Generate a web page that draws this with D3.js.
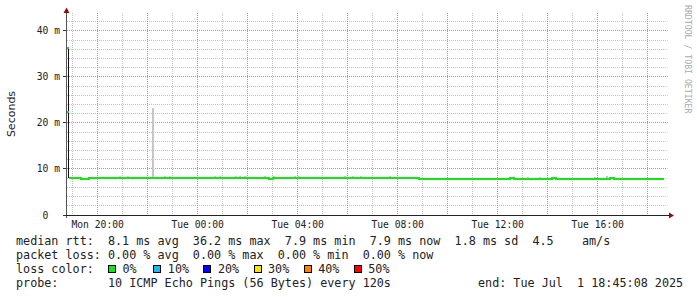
<!DOCTYPE html>
<html>
<head>
<meta charset="utf-8">
<script src="https://cdn.jsdelivr.net/npm/d3@7"></script>
<style>
  body { margin: 0; background: #fff; }
  text { white-space: pre; }
</style>
</head>
<body>
<svg id="chart" width="697" height="297"></svg>
<script>
// ---- data ----
const graphStart = "2025-06-30T18:45:08"
const graphEnd = "2025-07-01T18:45:08"
const seriesStart = "2025-06-30T18:50:00"   // median rtt, one value every 10 min
const stepMinutes = 10

// median rtt in ms, one row per hour (first row is the 18:50 sample)
const medianRtt = [
  8.0,
  8.0, 8.0, 7.9, 7.9, 8.0, 8.0,   // 19
  8.0, 8.0, 8.0, 8.0, 8.0, 8.1,   // 20
  8.0, 8.0, 8.0, 8.0, 8.0, 8.0,   // 21
  8.0, 8.0, 8.0, 8.0, 8.1, 8.0,   // 22
  8.0, 8.0, 8.0, 8.0, 8.0, 8.0,   // 23
  8.0, 8.0, 8.0, 8.0, 8.1, 8.0,   // 00
  8.0, 8.0, 8.0, 8.0, 8.0, 8.0,   // 01
  8.0, 8.0, 8.0, 8.0, 8.0, 7.9,   // 02
  8.0, 8.0, 8.0, 8.0, 8.0, 8.0,   // 03
  8.0, 8.0, 8.0, 8.0, 8.0, 8.0,   // 04
  8.0, 8.0, 8.0, 8.0, 8.0, 8.0,   // 05
  8.0, 8.1, 8.0, 8.1, 8.0, 8.0,   // 06
  8.0, 8.0, 8.0, 8.0, 8.0, 8.0,   // 07
  8.0, 8.0, 8.0, 8.1, 8.0, 7.9,   // 08
  7.9, 7.9, 7.9, 7.9, 7.9, 7.9,   // 09
  7.9, 7.9, 7.9, 7.9, 7.9, 7.9,   // 10
  7.9, 7.9, 7.9, 7.9, 7.9, 7.9,   // 11
  7.9, 7.9, 7.9, 8.0, 7.9, 7.9,   // 12
  7.9, 7.9, 7.9, 7.9, 7.9, 7.9,   // 13
  7.9, 8.0, 7.9, 7.9, 7.9, 7.9,   // 14
  7.9, 7.9, 7.9, 7.9, 7.9, 7.9,   // 15
  7.9, 7.9, 7.9, 8.0, 7.9, 7.9,   // 16
  7.9, 7.9, 7.9, 7.9, 7.9, 7.9,   // 17
  7.9, 7.9, 7.9, 7.9, 7.9         // 18
]

// smoke (slowest ping) where it shows above the median line
const smokeTimes = [
  "2025-06-30T20:50", "2025-06-30T21:10", "2025-06-30T22:10", "2025-06-30T22:40",
  "2025-06-30T22:50", "2025-07-01T00:40", "2025-07-01T00:50", "2025-07-01T01:30",
  "2025-07-01T01:40", "2025-07-01T01:50", "2025-07-01T02:40", "2025-07-01T03:00",
  "2025-07-01T03:50", "2025-07-01T04:00", "2025-07-01T05:50", "2025-07-01T06:10",
  "2025-07-01T06:30", "2025-07-01T07:40", "2025-07-01T13:10", "2025-07-01T13:40",
  "2025-07-01T15:50", "2025-07-01T16:20"
]
const smokeMax = [
  8.5, 8.4, 23.3, 8.5,
  8.4, 8.5, 8.4, 8.5,
  8.5, 8.4, 8.5, 8.5,
  8.4, 8.4, 8.5, 8.4,
  8.4, 8.4, 8.3, 8.3,
  8.3, 8.4
]

// very first column: spread of pings right at graph start
const firstColumnTime = "2025-06-30T18:46"
const firstColumnPings = [36.2, 22.4]
const firstColumnLow = 8.0

const yTicks = [0, 10, 20, 30, 40]
const yTickLabels = ["0  ", "10 m", "20 m", "30 m", "40 m"]

const lossLabels = ["0%", "10%", "20%", "30%", "40%", "50%"]
const lossColors = ["#14e614", "#1cb8f0", "#0000ff", "#ffe400", "#ff7f00", "#ff0000"]

const legendRows = [
  "median rtt:  8.1 ms avg  36.2 ms max  7.9 ms min  7.9 ms now  1.8 ms sd  4.5    am/s",
  "packet loss: 0.00 % avg  0.00 % max  0.00 % min  0.00 % now",
  "loss color:",
  "probe:       10 ICMP Echo Pings (56 Bytes) every 120s"
]
const endLabel = "end: Tue Jul  1 18:45:08 2025"

// small helper so attributes can be set from an object
d3.selection.prototype.attrs = function(o) {
  for (let k in o) this.attr(k, o[k])
  return this
}

// ---- layout ----
const svg = d3.select("#chart")
const plotLeft = 66.5, plotRight = 666.5, plotTop = 13, plotBottom = 215
const mono = "'DejaVu Sans Mono', monospace"
const parse = d3.utcParse("%Y-%m-%dT%H:%M:%S")
const parseShort = d3.utcParse("%Y-%m-%dT%H:%M")

let x = d3.scaleUtc()
  .domain([parse(graphStart), parse(graphEnd)])
  .range([plotLeft, plotRight])
let y = d3.scaleLinear().domain([0, 43.9]).range([plotBottom, plotTop])

const t0 = parse(seriesStart)
let series = medianRtt.map((v, i) => ({ t: d3.utcMinute.offset(t0, i * stepMinutes), v: v }))
let crisp = v => Math.floor(v) + 0.5

// grid, minor first then major (1 on / 1 off dots like rrdtool)
let g = svg.append("g")
let minorY = d3.range(0, 43, 2).filter(d => d % 10 != 0)
let hours = x.ticks(d3.utcHour.every(1))
function hgrid(vals, col) {
  g.append("g").selectAll("line").data(vals).join("line")
    .attrs({ x1: Math.floor(plotLeft) + 1, x2: plotRight + 1, y1: d => crisp(y(d)), y2: d => crisp(y(d)),
      stroke: col, "stroke-dasharray": "1 1" })
}
function vgrid(vals, col) {
  g.append("g").selectAll("line").data(vals).join("line")
    .attrs({ x1: d => crisp(x(d)), x2: d => crisp(x(d)), y1: plotTop, y2: plotBottom,
      stroke: col, "stroke-dasharray": "1 1" })
}
hgrid(minorY, "#c4c4c4")
vgrid(hours.filter(d => d.getUTCHours() % 2 != 0), "#c4c4c4")
hgrid(yTicks.slice(1), "#de8484")
vgrid(hours.filter(d => d.getUTCHours() % 2 == 0), "#de8484")

// smoke
let medianAt = t => series[Math.max(0, d3.bisector(d => d.t).right(series, t) - 1)].v
svg.append("g").attr("shape-rendering", "crispEdges")
  .selectAll("rect").data(smokeTimes.map((s, i) => ({ t: parseShort(s), max: smokeMax[i] })))
  .join("rect")
  .attrs({
    x: d => x(d.t),
    width: d => Math.max(2, x(d3.utcMinute.offset(d.t, 5)) - x(d.t)),
    y: d => y(d.max),
    height: d => y(medianAt(d.t)) - y(d.max),
    fill: "#c6c6c6"
  })

// first column spike
let fx = Math.round(x(parseShort(firstColumnTime))) + 1
svg.append("rect")
  .attrs({ x: fx, width: 1, y: y(firstColumnPings[0]),
    height: y(firstColumnLow) - y(firstColumnPings[0]), fill: "#111", "shape-rendering": "crispEdges" })
svg.selectAll(".fp").data(firstColumnPings).join("rect")
  .attrs({ x: fx - 1, width: 2, y: d => y(d) - 1, height: 2, fill: lossColors[0],
    "shape-rendering": "crispEdges" })

// median line
let line = d3.line().x(d => x(d.t)).y(d => y(d.v)).curve(d3.curveStepAfter)
svg.append("path").datum(series)
  .attrs({ d: line, fill: "none", stroke: lossColors[0], "stroke-width": 2, "shape-rendering": "crispEdges" })

// axes
let ax = svg.append("g").attr("shape-rendering", "crispEdges")
ax.append("line").attrs({ x1: plotLeft, x2: plotLeft, y1: plotBottom + 3, y2: 11, stroke: "#555" })
ax.append("line").attrs({ x1: 63, x2: 670, y1: plotBottom + 0.5, y2: plotBottom + 0.5, stroke: "#222" })
ax.selectAll(".yt").data(yTicks).join("line")
  .attrs({ x1: 63, x2: 66, y1: d => crisp(y(d)), y2: d => crisp(y(d)), stroke: "#333" })
svg.append("path").attr("d", "M63.5,13L66.5,7.5L69.5,13Z").attr("fill", "#8b1010")
svg.append("path").attr("d", "M669,212.5L674,215.5L669,218.5Z").attr("fill", "#8b1010")

svg.selectAll(".ylab").data(yTicks).join("text")
  .attrs({ x: 60, y: d => y(d) + 3.5, "text-anchor": "end", "font-family": mono, "font-size": "9.7px", fill: "#222" })
  .text((d, i) => yTickLabels[i])

svg.selectAll(".xlab").data(x.ticks(d3.utcHour.every(4))).join("text")
  .attrs({ x: d => x(d), y: 228, "text-anchor": "middle", "font-family": mono, "font-size": "9.7px", fill: "#222" })
  .text(d => d3.utcFormat("%a %H:%M")(d))

svg.append("text")
  .attrs({ transform: "translate(15,114) rotate(-90)", "text-anchor": "middle",
    "font-family": "'DejaVu Sans', sans-serif", "font-size": "11px", fill: "#222" })
  .text("Seconds")

svg.append("text")
  .attrs({ transform: "translate(684.5,5) rotate(90)", "font-family": mono,
    "font-size": "8.2px", fill: "#aaa" })
  .text("RRDTOOL / TOBI OETIKER")

// legend
const charW = 7.08
svg.selectAll(".leg").data(legendRows).join("text")
  .attrs({ x: 16, y: (d, i) => 244.5 + i * 14.1, "font-family": mono, "font-size": "11.75px", fill: "#222" })
  .text(d => d)

let sw = svg.append("g")
lossLabels.forEach((lab, i) => {
  let sx = 16 + 13 * charW + (i == 0 ? 0 : 45.3 + (i - 1) * 50.1)
  sw.append("rect").attrs({ x: Math.round(sx) + 0.5, y: 265.5, width: 7, height: 7,
    fill: lossColors[i], stroke: "#000", "shape-rendering": "crispEdges" })
  sw.append("text").attrs({ x: sx + 14.5, y: 244.5 + 2 * 14.1, "font-family": mono, "font-size": "11.75px", fill: "#222" })
    .text(lab)
})

svg.append("text")
  .attrs({ x: 478, y: 244.5 + 3 * 14.1, "font-family": mono, "font-size": "11.75px", fill: "#222" })
  .text(endLabel)
</script>
</body>
</html>
